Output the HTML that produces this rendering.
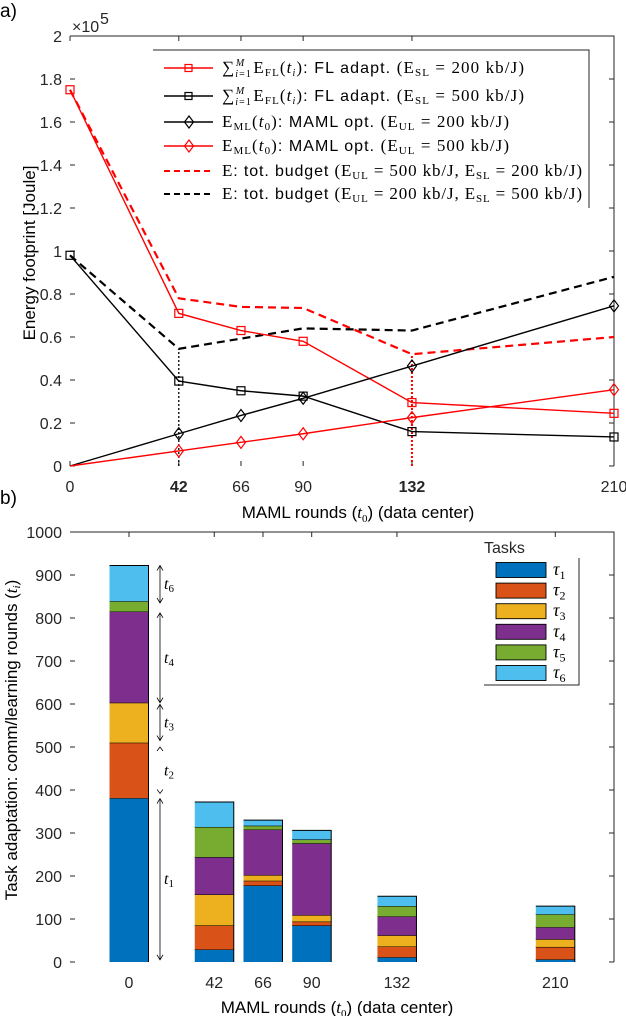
<!DOCTYPE html>
<html><head><meta charset="utf-8"><style>
body{margin:0;background:#fff;}
svg{display:block;font-family:"Liberation Sans",sans-serif;}
.tk{font-size:16px;fill:#262626;}
.ti{font-size:17px;fill:#000;}
.lg{font-size:16px;fill:#000;}
.m{font-family:"Liberation Serif",serif;}
</style></head><body>
<svg id="s" width="626" height="1016" viewBox="0 0 626 1016">
<text x="0" y="17" font-size="19">a)</text>
<text x="0" y="504" font-size="19">b)</text>
<g id="topchart"></g>
<g id="botchart"></g>
</svg>
<script>
// ---- top chart data (×1e4 Joule) ----
const xRounds = [0, 42, 66, 90, 132, 210];
const flAdapt200 = [17.5, 7.1, 6.3, 5.8, 2.95, 2.45];
const flAdapt500 = [9.8, 3.95, 3.5, 3.25, 1.6, 1.35];
const maml200 = [0, 1.5, 2.35, 3.15, 4.65, 7.45];
const maml500 = [0, 0.7, 1.1, 1.5, 2.25, 3.55];
const budgetRed = [17.5, 7.8, 7.4, 7.35, 5.2, 6.0];
const budgetBlackX = [0, 42, 90, 132, 210];
const budgetBlack = [9.8, 5.45, 6.4, 6.3, 8.8];
const yTicksTop = [0, 0.2, 0.4, 0.6, 0.8, 1, 1.2, 1.4, 1.6, 1.8, 2];
const boldX = [42, 132];
// ---- bottom chart data ----
const barRounds = [0, 42, 66, 90, 132, 210];
const tau1 = [381, 29, 178, 85, 11, 6];
const tau2 = [129, 56, 11, 9, 25, 29];
const tau3 = [93, 72, 13, 15, 26, 18];
const tau4 = [212, 87, 106, 167, 44, 28];
const tau5 = [24, 70, 9, 9, 24, 30];
const tau6 = [83, 58, 13, 21, 23, 19];
const yTicksBot = [0, 100, 200, 300, 400, 500, 600, 700, 800, 900, 1000];
const taskColors = ['#0072BD', '#D95319', '#EDB120', '#7E2F8E', '#77AC30', '#4DBEEE'];

const NS = 'http://www.w3.org/2000/svg';
function mk(parent, tag, attrs, txt) {
  const el = document.createElementNS(NS, tag);
  for (const k in attrs) el.setAttribute(k, attrs[k]);
  if (txt !== undefined) el.textContent = txt;
  parent.appendChild(el);
  return el;
}
const topG = document.getElementById('topchart');
const botG = document.getElementById('botchart');
const X0 = 70, X1 = 614, TY0 = 466, TY1 = 36;
const tx = v => X0 + v / 210 * (X1 - X0);
const ty = v => TY0 - v / 20 * (TY0 - TY1);
let e = mk(topG, 'path', { d: `M${X0},${TY1}H${X1}V${TY0}`, stroke: '#262626', fill: 'none', 'stroke-width': 1 });


yTicksTop.forEach(v => {
  const y = ty(v * 10);
  mk(topG, 'path', { d: `M${X0},${y}h5M${X1},${y}h-5`, stroke: '#262626' });
  const t = mk(topG, 'text', { x: X0 - 8, y: y + 6, 'text-anchor': 'end', class: 'tk' }, String(v));
  
  
});
xRounds.forEach(v => {
  const x = tx(v);
  mk(topG, 'path', { d: `M${x},${TY0}v-5M${x},${TY1}v5`, stroke: '#262626' });
  const b = boldX.includes(v);
  const t = mk(topG, 'text', { x: x, y: 492, 'text-anchor': 'middle', class: 'tk', 'font-weight': b ? 'bold' : 'normal', fill: b ? '#000' : '#262626' }, String(v));
  
  
});
e = mk(topG, 'text', { x: 72, y: 32, class: 'tk', 'font-size': 14 }, '×10');


mk(topG, 'text', { x: 100, y: 24, class: 'tk', 'font-size': 11 }, '5');
e = mk(topG, 'text', { transform: 'translate(35,253) rotate(-90)', 'text-anchor': 'middle', class: 'ti' }, 'Energy footprint [Joule]');


e = mk(topG, 'text', { x: 358, y: 518, 'text-anchor': 'middle', class: 'ti' });


e.innerHTML = 'MAML rounds (<tspan class="m" font-style="italic">t</tspan><tspan class="m" font-size="11" dy="4">0</tspan><tspan dy="-4">) (data center)</tspan>';
e = mk(topG, 'line', { x1: tx(42), x2: tx(42), y1: ty(0), y2: ty(budgetBlack[1]), stroke: '#000', 'stroke-dasharray': '2,2', 'stroke-width': 1.3 });


e = mk(topG, 'line', { x1: tx(132), x2: tx(132), y1: ty(0), y2: ty(budgetRed[4]), stroke: '#f00', 'stroke-dasharray': '2,2', 'stroke-width': 2 });


function series(name, xs, ys, color, dash, marker, w) {
  const g = mk(topG, 'g', {});
  
  
  mk(g, 'polyline', { points: xs.map((x, i) => tx(x) + ',' + ty(ys[i])).join(' '), fill: 'none', stroke: color, 'stroke-width': w, 'stroke-dasharray': dash || 'none' });
  xs.forEach((x, i) => {
    const cx = tx(x), cy = ty(ys[i]);
    if (marker === 'sq') mk(g, 'rect', { x: cx - 4, y: cy - 4, width: 8, height: 8, fill: 'none', stroke: color, 'stroke-width': 1.2 });
    if (marker === 'di' && i > 0) mk(g, 'path', { d: `M${cx},${cy - 6}l4.5,6l-4.5,6l-4.5,-6z`, fill: 'none', stroke: color, 'stroke-width': 1.2 });
  });
}
series('budget-red-dashed', xRounds, budgetRed, '#f00', '8,5', null, 2.2);
series('budget-black-dashed', budgetBlackX, budgetBlack, '#000', '8,5', null, 2.2);
series('fl-adapt-200', xRounds, flAdapt200, '#f00', null, 'sq', 1.4);
series('fl-adapt-500', xRounds, flAdapt500, '#000', null, 'sq', 1.4);
series('maml-200', xRounds, maml200, '#000', null, 'di', 1.4);
series('maml-500', xRounds, maml500, '#f00', null, 'di', 1.4);
const lg = mk(topG, 'g', {});


mk(lg, 'path', { d: 'M153,50H589V208', fill: 'none', stroke: '#262626' });
const sumTxt = '<tspan class="m" font-size="17">∑</tspan><tspan class="m" font-size="10" dy="4" font-style="italic">i</tspan><tspan class="m" font-size="10">=1</tspan><tspan class="m" font-size="10" dx="-16" dy="-11" font-style="italic">M</tspan><tspan class="m" font-size="17" dx="8" dy="7">E</tspan><tspan class="m" font-size="11" dy="3">FL</tspan><tspan class="m" font-size="17" dy="-3">(</tspan><tspan class="m" font-size="17" font-style="italic">t</tspan><tspan class="m" font-size="10" font-style="italic" dy="3">i</tspan><tspan class="m" font-size="17" dy="-3">)</tspan>: FL adapt. ';
const mlTxt = '<tspan class="m" font-size="17">E</tspan><tspan class="m" font-size="11" dy="3">ML</tspan><tspan class="m" font-size="17" dy="-3">(</tspan><tspan class="m" font-size="17" font-style="italic">t</tspan><tspan class="m" font-size="11" dy="3">0</tspan><tspan class="m" font-size="17" dy="-3">)</tspan>: MAML opt. ';
const paren = (a, av, b, bv) => '<tspan class="m" font-size="17">(E</tspan><tspan class="m" font-size="11" dy="3">' + a + '</tspan><tspan class="m" font-size="17" dy="-3"> = ' + av + ' kb/J' + (b ? ', E' : ')') + '</tspan>' + (b ? '<tspan class="m" font-size="11" dy="3">' + b + '</tspan><tspan class="m" font-size="17" dy="-3"> = ' + bv + ' kb/J)</tspan>' : '');
const lrows = [
  [68, '#f00', null, 'sq', sumTxt + paren('SL', 200), 302],
  [96, '#000', null, 'sq', sumTxt + paren('SL', 500), 302],
  [122, '#000', null, 'di', mlTxt + paren('UL', 200), 287],
  [146, '#f00', null, 'di', mlTxt + paren('UL', 500), 287],
  [171, '#f00', '6,4', null, '<tspan class="m" font-size="17">E</tspan>: tot. budget ' + paren('UL', 500, 'SL', 200), 360],
  [194, '#000', '6,4', null, '<tspan class="m" font-size="17">E</tspan>: tot. budget ' + paren('UL', 200, 'SL', 500), 360]
];
lrows.forEach(r => {
  const y = r[0];
  const g = mk(lg, 'g', {});
  
  
  mk(g, 'line', { x1: 164, x2: 213, y1: y, y2: y, stroke: r[1], 'stroke-width': r[2] ? 2 : 1.4, 'stroke-dasharray': r[2] || 'none' });
  if (r[3] === 'sq') mk(g, 'rect', { x: 185, y: y - 3.5, width: 7, height: 7, fill: 'none', stroke: r[1], 'stroke-width': 1.2 });
  if (r[3] === 'di') mk(g, 'path', { d: `M189,${y - 6}l4.5,6l-4.5,6l-4.5,-6z`, fill: 'none', stroke: r[1], 'stroke-width': 1.2 });
  const t = mk(g, 'text', { x: 222, y: y + 5, class: 'lg', textLength: r[5], lengthAdjust: 'spacing' });
  t.innerHTML = r[4];
});
// ---- bottom chart ----
const BY0 = 962, BY1 = 532;
const by = v => BY0 - v / 1000 * (BY0 - BY1);
const bx = v => 129 + v * 2.03;
const BW = 39;
e = mk(botG, 'path', { d: `M${X0},${BY1}H${X1}V${BY0}`, stroke: '#262626', fill: 'none' });


yTicksBot.forEach(v => {
  const y = by(v);
  mk(botG, 'path', { d: `M${X0},${y}h5M${X1},${y}h-5`, stroke: '#262626' });
  const t = mk(botG, 'text', { x: X0 - 8, y: y + 6, 'text-anchor': 'end', class: 'tk' }, String(v));
  
  
});
const stacks = [tau1, tau2, tau3, tau4, tau5, tau6];
barRounds.forEach((r, i) => {
  const x = bx(r);
  mk(botG, 'path', { d: `M${x},${BY1}v5`, stroke: '#262626' });
  const t = mk(botG, 'text', { x: x, y: 988, 'text-anchor': 'middle', class: 'tk' }, String(r));
  
  
  let base = 0;
  stacks.forEach((s, k) => {
    const rc = mk(botG, 'rect', { x: x - BW / 2, y: by(base + s[i]), width: BW, height: by(base) - by(base + s[i]), fill: taskColors[k] });
    
    
    mk(botG, 'path', { d: `M${x - BW / 2},${by(base + s[i])}h${BW}V${by(base)}`, stroke: '#000', fill: 'none', 'stroke-width': 1 });
    base += s[i];
  });
});
e = mk(botG, 'text', { transform: 'translate(17,740) rotate(-90)', 'text-anchor': 'middle', class: 'ti' });


e.innerHTML = 'Task adaptation: comm/learning rounds (<tspan class="m" font-style="italic">t</tspan><tspan class="m" font-style="italic" font-size="11" dy="3">i</tspan><tspan dy="-3">)</tspan>';
e = mk(botG, 'text', { x: 337, y: 1013, 'text-anchor': 'middle', class: 'ti' });


e.innerHTML = 'MAML rounds (<tspan class="m" font-style="italic">t</tspan><tspan class="m" font-size="11" dy="4">0</tspan><tspan dy="-4">) (data center)</tspan>';
const ann = [[922, 835, '6'], [812, 603, '4'], [599, 515, '3'], [380, 5, '1']];
ann.forEach(a2 => {
  const g = mk(botG, 'g', {});
  
  
  const y1 = by(a2[0]), y2 = by(a2[1]);
  mk(g, 'path', { d: `M160,${y1}V${y2}M157,${y1 + 5}L160,${y1}L163,${y1 + 5}M157,${y2 - 5}L160,${y2}L163,${y2 - 5}`, stroke: '#000', fill: 'none', 'stroke-width': 0.8 });
  const t = mk(g, 'text', { x: 164, y: (y1 + y2) / 2 + 5, class: 'm', 'font-size': 16, 'font-style': 'italic' });
  t.innerHTML = 't<tspan font-size="11" font-style="normal" dy="3">' + a2[2] + '</tspan>';
});
e = mk(botG, 'path', { d: `M157,${by(500) + 4}L160,${by(500)}L163,${by(500) + 4}M157,${by(392) - 4}L160,${by(392)}L163,${by(392) - 4}`, stroke: '#000', fill: 'none', 'stroke-width': 0.8 });


e = mk(botG, 'text', { x: 164, y: by(445) + 5, class: 'm', 'font-size': 16, 'font-style': 'italic' });


e.innerHTML = 't<tspan font-size="11" font-style="normal" dy="3">2</tspan>';
const bl = mk(botG, 'g', {});


mk(bl, 'text', { x: 484, y: 553, class: 'tk', fill: '#000', 'font-size': 17 }, 'Tasks');
mk(bl, 'path', { d: 'M579,558V685H484', stroke: '#262626', fill: 'none' });
taskColors.forEach((c, k) => {
  const y = 570 + k * 20.6;
  const g = mk(bl, 'g', {});
  
  
  mk(g, 'rect', { x: 496, y: y - 7.5, width: 50, height: 15, fill: c, stroke: '#000', 'stroke-width': 0.9 });
  const t = mk(g, 'text', { x: 553, y: y + 5, class: 'm', 'font-size': 18, 'font-style': 'italic' });
  t.innerHTML = 'τ<tspan font-size="12" font-style="normal" dy="4">' + (k + 1) + '</tspan>';
});
</script>
</body></html>
